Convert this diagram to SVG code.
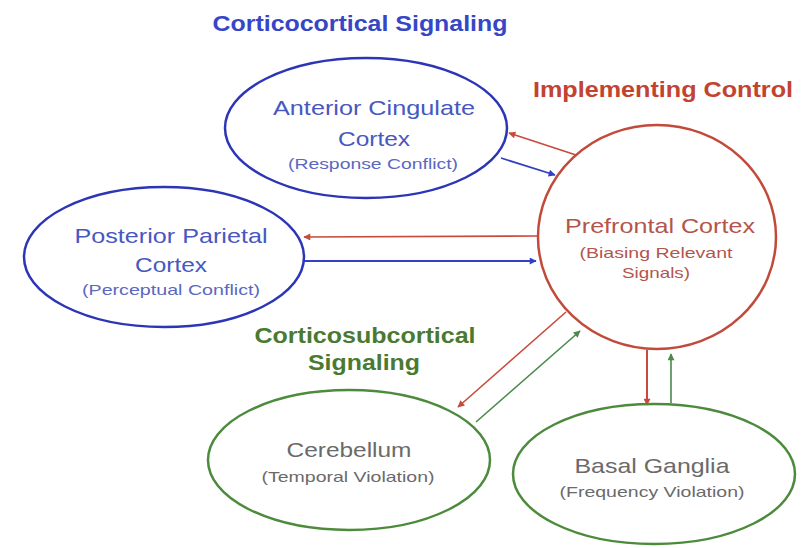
<svg xmlns="http://www.w3.org/2000/svg" width="810" height="548" viewBox="0 0 810 548">
<style>
text{font-family:"Liberation Sans",Arial,Helvetica,sans-serif;text-anchor:middle}
.title{font-weight:bold;font-size:22px}
.tb{fill:#3646c6}.tr{fill:#c2432f}.tg{fill:#4a7a32}
.main{font-size:21px}.sub{font-size:15px}
.blue{fill:none;stroke:#2c35b6;stroke-width:2.5}
.red{fill:none;stroke:#c24a3a;stroke-width:2.5}
.green{fill:none;stroke:#4c8a3c;stroke-width:2.5}
.cb{stroke:#3340c4;stroke-width:1.8;fill:none}
.cr{stroke:#c84a3c;stroke-width:1.6;fill:none}
.cg{stroke:#4a8a4a;stroke-width:1.6;fill:none}
</style>
<defs>
<marker id="ab" viewBox="0 0 10 10" refX="9" refY="5" markerWidth="8" markerHeight="7" markerUnits="userSpaceOnUse" orient="auto"><path d="M0,0 L10,5 L0,10 z" fill="#3340c4"/></marker>
<marker id="ar" viewBox="0 0 10 10" refX="9" refY="5" markerWidth="8" markerHeight="7" markerUnits="userSpaceOnUse" orient="auto"><path d="M0,0 L10,5 L0,10 z" fill="#c84a3c"/></marker>
<marker id="ag" viewBox="0 0 10 10" refX="9" refY="5" markerWidth="8" markerHeight="7" markerUnits="userSpaceOnUse" orient="auto"><path d="M0,0 L10,5 L0,10 z" fill="#4a8a4a"/></marker>
</defs>
<rect width="810" height="548" fill="#ffffff"/>

<g id="labels">
<text class="title tb" x="360" y="31" textLength="295" lengthAdjust="spacingAndGlyphs">Corticocortical Signaling</text>
<text class="title tr" x="663" y="97" textLength="260" lengthAdjust="spacingAndGlyphs">Implementing Control</text>
<text class="title tg" x="365" y="343" textLength="221" lengthAdjust="spacingAndGlyphs">Corticosubcortical</text>
<text class="title tg" x="364" y="370" textLength="112" lengthAdjust="spacingAndGlyphs">Signaling</text>
</g>

<g id="connectors">
<line class="cr" x1="576" y1="155" x2="509" y2="133" marker-end="url(#ar)"/>
<line class="cb" x1="501" y1="158" x2="555" y2="175" marker-end="url(#ab)"/>
<line class="cr" x1="537" y1="236" x2="304" y2="237" marker-end="url(#ar)"/>
<line class="cb" x1="304" y1="261" x2="536" y2="261" marker-end="url(#ab)"/>
<line class="cr" x1="566" y1="312" x2="458" y2="407" marker-end="url(#ar)"/>
<line class="cg" x1="476" y1="422" x2="580" y2="331" marker-end="url(#ag)"/>
<line class="cr" x1="647" y1="350" x2="647" y2="405" style="stroke-width:2" marker-end="url(#ar)"/>
<line class="cg" x1="671" y1="403" x2="671" y2="354" marker-end="url(#ag)"/>
</g>

<g id="acc">
<ellipse class="blue" cx="366" cy="128" rx="141" ry="70"/>
<text class="main" x="374" y="115" fill="#4758c0" textLength="202" lengthAdjust="spacingAndGlyphs">Anterior Cingulate</text>
<text class="main" x="374" y="146" fill="#4758c0" textLength="72" lengthAdjust="spacingAndGlyphs">Cortex</text>
<text class="sub" x="373" y="169" fill="#5a68c0" textLength="170" lengthAdjust="spacingAndGlyphs">(Response Conflict)</text>
</g>

<g id="ppc">
<ellipse class="blue" cx="164" cy="257" rx="140" ry="70"/>
<text class="main" x="171" y="243" fill="#4758c0" textLength="193" lengthAdjust="spacingAndGlyphs">Posterior Parietal</text>
<text class="main" x="171" y="272" fill="#4758c0" textLength="72" lengthAdjust="spacingAndGlyphs">Cortex</text>
<text class="sub" x="171" y="295" fill="#5a68c0" textLength="178" lengthAdjust="spacingAndGlyphs">(Perceptual Conflict)</text>
</g>

<g id="pfc">
<ellipse class="red" cx="657" cy="237" rx="119" ry="112"/>
<text class="main" x="660" y="233" fill="#b4554c" textLength="190" lengthAdjust="spacingAndGlyphs">Prefrontal Cortex</text>
<text class="sub" x="656" y="258" fill="#b4554c" textLength="153" lengthAdjust="spacingAndGlyphs">(Biasing Relevant</text>
<text class="sub" x="656" y="278" fill="#b4554c" textLength="68" lengthAdjust="spacingAndGlyphs">Signals)</text>
</g>

<g id="cerebellum">
<ellipse class="green" cx="349" cy="460" rx="141" ry="70"/>
<text class="main" x="349" y="457" fill="#6a6a6a" textLength="125" lengthAdjust="spacingAndGlyphs">Cerebellum</text>
<text class="sub" x="348" y="482" fill="#6a6a6a" textLength="173" lengthAdjust="spacingAndGlyphs">(Temporal Violation)</text>
</g>

<g id="basal">
<ellipse class="green" cx="654" cy="474" rx="141" ry="70"/>
<text class="main" x="652" y="473" fill="#6a6a6a" textLength="155" lengthAdjust="spacingAndGlyphs">Basal Ganglia</text>
<text class="sub" x="652" y="497" fill="#6a6a6a" textLength="185" lengthAdjust="spacingAndGlyphs">(Frequency Violation)</text>
</g>
</svg>
